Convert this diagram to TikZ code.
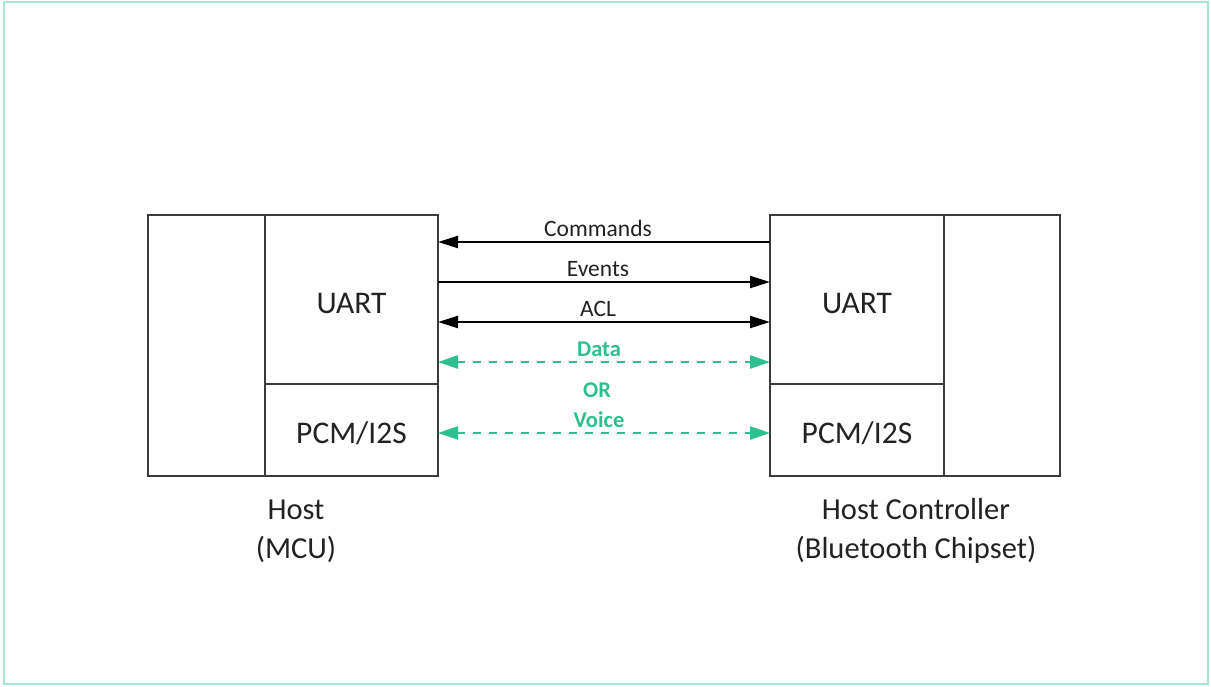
\documentclass[tikz,border=0pt]{standalone}
\usepackage{fontspec}
\setmainfont{Carlito}
\usetikzlibrary{arrows.meta}
\definecolor{frame}{HTML}{A6E4D0}
\definecolor{boxline}{HTML}{3A3A3A}
\definecolor{ink}{HTML}{222222}
\definecolor{linkgreen}{HTML}{2EBF8E}
\tikzset{
  cell/.style={draw=boxline, line width=1.8pt, inner sep=0pt, outer sep=0pt,
    text=ink, font=\fontsize{31.5}{36}\selectfont,
    text height=27pt, text depth=0pt},
  caption/.style={align=center, text=ink, font=\fontsize{30.5}{39}\selectfont},
  linklabel/.style={text=ink, font=\fontsize{23.5}{27}\selectfont,
    midway, above=1pt, xshift=-6pt},
  altlabel/.style={text=linkgreen, font=\bfseries\fontsize{22.5}{26}\selectfont},
  solidlink/.style={draw=black, line width=2.4pt,
    arrows={-Triangle[length=20pt,width=12pt]}},
  altlink/.style={draw=linkgreen, line width=2.4pt, dash pattern=on 8pt off 8pt,
    arrows={Triangle[length=20pt,width=13pt]-Triangle[length=20pt,width=13pt]}},
}
\begin{document}
\begin{tikzpicture}[x=1pt, y=-1pt]
  \useasboundingbox (0,0) rectangle (1211,686);
  % outer frame
  \draw[frame, line width=2pt] (4,2) rectangle (1208,684);

  % host side
  \node[cell, minimum width=117pt, minimum height=261pt] (hostcore) at (206.5,345.5) {};
  \node[cell, minimum width=173pt, minimum height=169pt] (hostuart) at (351.5,299.5) {UART};
  \node[cell, minimum width=173pt, minimum height=92pt]  (hostpcm)  at (351.5,430) {PCM/I2S};

  % controller side
  \node[cell, minimum width=174pt, minimum height=169pt] (ctrluart) at (857,299.5) {UART};
  \node[cell, minimum width=174pt, minimum height=92pt]  (ctrlpcm)  at (857,430) {PCM/I2S};
  \node[cell, minimum width=116pt, minimum height=261pt] (ctrlcore) at (1002,345.5) {};

  % captions
  \node[caption] (hostcap) at (296,531) {Host\\(MCU)};
  \node[caption] (ctrlcap) at (916,531) {Host Controller\\(Bluetooth Chipset)};

  % UART links
  \draw[solidlink] (ctrluart.west |- 0,242) -- (hostuart.east |- 0,242)
    node[linklabel] (cmdlbl) {Commands};
  \draw[solidlink] (hostuart.east |- 0,282) -- (ctrluart.west |- 0,282)
    node[linklabel] (evtlbl) {Events};
  \draw[solidlink, arrows={Triangle[length=20pt,width=12pt]-Triangle[length=20pt,width=12pt]}]
    (hostuart.east |- 0,322) -- (ctrluart.west |- 0,322)
    node[linklabel] (acllbl) {ACL};

  % data / voice alternatives
  \draw[altlink] (hostuart.east |- 0,362) -- (ctrluart.west |- 0,362)
    node[altlabel, midway, above=1pt, xshift=-5pt] (datalbl) {Data};
  \node[altlabel] (orlbl) at (597,390) {OR};
  \draw[altlink] (hostpcm.east |- 0,433) -- (ctrlpcm.west |- 0,433)
    node[altlabel, midway, above=1pt, xshift=-5pt] (voicelbl) {Voice};
\end{tikzpicture}
\end{document}
